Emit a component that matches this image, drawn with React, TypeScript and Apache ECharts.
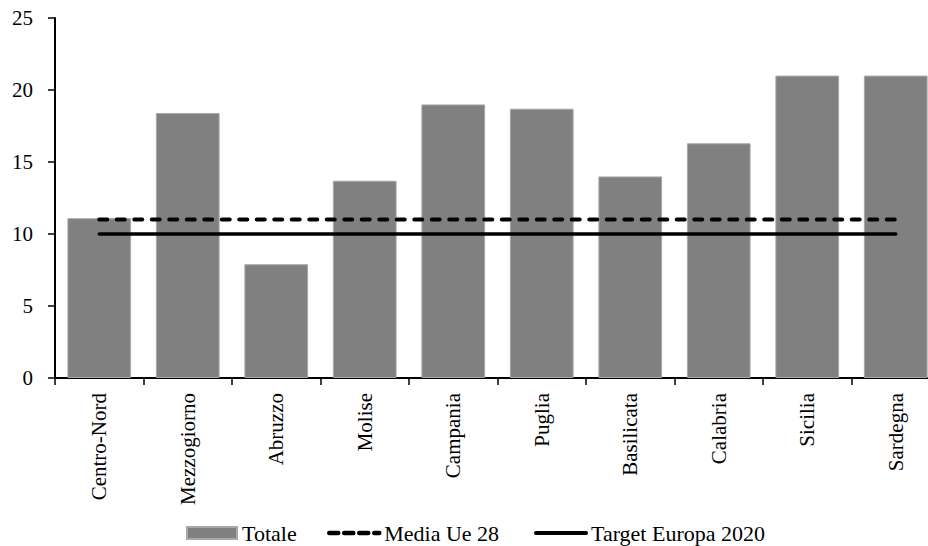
import React, { useEffect, useRef } from "react";
import * as echarts from "echarts";

const categories = [
  "Centro-Nord",
  "Mezzogiorno",
  "Abruzzo",
  "Molise",
  "Campania",
  "Puglia",
  "Basilicata",
  "Calabria",
  "Sicilia",
  "Sardegna",
];
const totale = [11.1, 18.4, 7.9, 13.7, 19.0, 18.7, 14.0, 16.3, 21.0, 21.0];
const mediaUe28 = [11.0, 11.0, 11.0, 11.0, 11.0, 11.0, 11.0, 11.0, 11.0, 11.0];
const targetEuropa2020 = [10, 10, 10, 10, 10, 10, 10, 10, 10, 10];
const yTicks = { min: 0, max: 25, interval: 5 };

const FONT = "Liberation Serif";

// one legend block per entry, so each key sits at its own place on the bottom row
const legendEntry = (left: number, item: Record<string, unknown>) => ({
  left,
  top: 522,
  padding: 0,
  itemWidth: 50,
  itemHeight: 12,
  textStyle: { fontFamily: FONT, fontSize: 22, color: "#000" },
  data: [item],
});

export default function App() {
  const ref = useRef<HTMLDivElement>(null);

  useEffect(() => {
    if (!ref.current) return;
    const chart = echarts.init(ref.current, null, { renderer: "svg" });
    chart.setOption({
      animation: false,
      backgroundColor: "#ffffff",
      textStyle: { fontFamily: FONT, color: "#000" },
      // the last category runs a little past the right edge of the page
      grid: { left: 55, top: 18, right: 0, height: 360, containLabel: false },
      legend: [
        legendEntry(186, { name: "Totale", icon: "rect" }),
        legendEntry(327, {
          name: "Media Ue 28",
          itemStyle: { opacity: 0 },
          lineStyle: { width: 4.5, type: [9, 6] },
        }),
        legendEntry(534, {
          name: "Target Europa 2020",
          itemStyle: { opacity: 0 },
          lineStyle: { width: 4 },
        }),
      ],
      xAxis: {
        type: "category",
        data: categories,
        boundaryGap: true,
        axisLine: { lineStyle: { color: "#000", width: 2 } },
        axisTick: { show: true, length: 7, lineStyle: { color: "#000", width: 1.5 } },
        axisLabel: {
          rotate: 90,
          interval: 0,
          margin: 15,
          fontFamily: FONT,
          fontSize: 21,
          color: "#000",
        },
        splitLine: { show: false },
      },
      yAxis: {
        type: "value",
        min: yTicks.min,
        max: yTicks.max,
        interval: yTicks.interval,
        axisLine: { show: true, lineStyle: { color: "#000", width: 2 } },
        axisTick: { show: true, length: 7, lineStyle: { color: "#000", width: 1.5 } },
        axisLabel: { margin: 22, fontFamily: FONT, fontSize: 21, color: "#000" },
        splitLine: { show: false },
      },
      series: [
        {
          name: "Totale",
          type: "bar",
          data: totale,
          barCategoryGap: "28%",
          itemStyle: { color: "#808080", borderColor: "#a8a8a8", borderWidth: 1 },
        },
        {
          name: "Media Ue 28",
          type: "line",
          data: mediaUe28,
          symbol: "none",
          itemStyle: { color: "#000" },
          lineStyle: { color: "#000", width: 4, type: [8, 9.5], cap: "round" },
        },
        {
          name: "Target Europa 2020",
          type: "line",
          data: targetEuropa2020,
          symbol: "none",
          itemStyle: { color: "#000" },
          lineStyle: { color: "#000", width: 3.5, type: "solid", cap: "round" },
        },
      ],
    });
    return () => chart.dispose();
  }, []);

  return (
    <div
      ref={ref}
      style={{ position: "fixed", left: 0, top: 0, width: 940, height: 546 }}
    />
  );
}
